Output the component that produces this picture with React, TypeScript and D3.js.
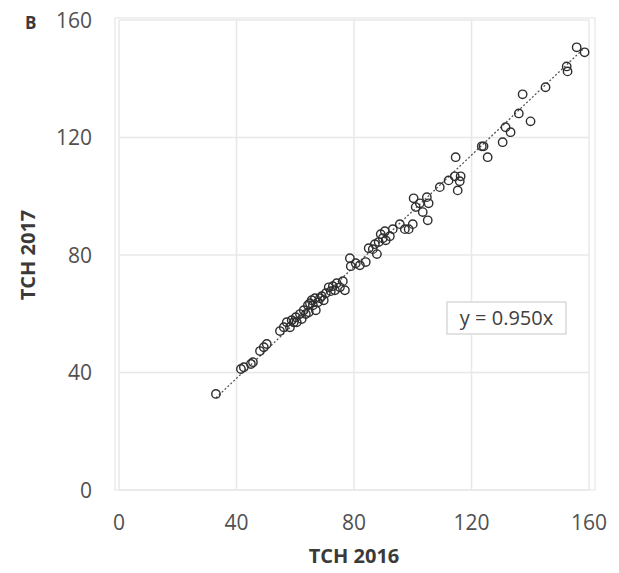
import React from "react";
import * as d3 from "d3";

// TCH 2016 vs TCH 2017
const tch2016 = [
  33.0, 41.5, 42.5, 44.9, 45.6, 48.0, 49.3, 50.3, 54.8, 56.1, 57.1, 58.2, 58.8, 59.5,
  60.2, 60.5, 61.6, 62.2, 62.9, 63.6, 64.3, 64.6, 65.0, 65.6, 66.0, 66.7, 67.0, 67.7,
  68.4, 69.0, 69.7, 70.4, 71.4, 72.1, 72.8, 73.5, 74.1, 75.2, 76.2, 76.9, 78.6, 78.9,
  80.6, 82.0, 84.0, 85.0, 86.4, 87.1, 87.8, 88.4, 89.1, 89.8, 90.5, 90.8, 92.2, 93.2,
  95.6, 97.3, 98.6, 100.0, 100.3, 101.0, 102.4, 103.4, 104.8, 105.1, 105.4, 109.2, 112.2,
  114.3, 114.6, 115.3, 116.0, 116.3, 123.5, 124.1, 125.5, 130.6, 131.6, 133.3, 136.1,
  137.4, 140.1, 145.2, 152.4, 152.7, 155.8, 158.5,
];
const tch2017 = [
  32.7, 41.2, 41.8, 42.9, 43.5, 47.3, 48.6, 49.7, 54.1, 55.4, 57.1, 55.4, 57.8, 57.1,
  58.8, 57.1, 59.9, 58.2, 61.2, 59.9, 62.9, 60.5, 63.6, 64.6, 62.9, 65.3, 61.2, 63.9,
  65.3, 66.0, 64.6, 67.0, 69.0, 67.7, 69.4, 68.0, 70.4, 69.0, 71.1, 68.0, 78.9, 76.2,
  77.2, 76.5, 77.6, 82.3, 82.0, 83.7, 80.3, 84.4, 87.1, 85.7, 88.1, 85.0, 86.4, 88.8,
  90.5, 88.8, 88.8, 90.5, 99.3, 96.3, 97.6, 94.6, 99.7, 91.8, 97.6, 103.1, 105.4,
  106.8, 113.3, 102.0, 105.1, 106.8, 117.0, 117.0, 113.3, 118.4, 123.5, 121.8, 128.2,
  134.7, 125.5, 137.1, 144.2, 142.5, 150.7, 149.0,
];
const ticks = [0, 40, 80, 120, 160];
const slope = 0.95;
const trendRange = [33, 158];

const W = 619;
const H = 573;
const font = "'Open Sans', sans-serif";

export default function App() {
  const x = d3.scaleLinear().domain([0, 160]).range([119, 589]);
  const y = d3.scaleLinear().domain([0, 160]).range([490, 20]);
  const pts = tch2016.map((v, i) => [v, tch2017[i]] as [number, number]);
  const trend = d3
    .line<number>()
    .x((d) => x(d))
    .y((d) => y(d * slope))(trendRange);

  return (
    <svg
      width={W}
      height={H}
      style={{ position: "absolute", left: 0, top: 0, background: "#fff" }}
    >
      {/* plot area */}
      <rect x={115} y={18} width={480} height={472} fill="none" stroke="#ececec" strokeWidth={1.5} />
      {ticks.map((t) => (
        <g key={"g" + t}>
          <line x1={x(t)} x2={x(t)} y1={y(160)} y2={y(0)} stroke="#e8e8e8" strokeWidth={1.5} />
          <line x1={x(0)} x2={x(160)} y1={y(t)} y2={y(t)} stroke="#e8e8e8" strokeWidth={1.5} />
        </g>
      ))}

      {/* tick labels */}
      {ticks.map((t) => (
        <text key={"xt" + t} x={x(t)} y={530} textAnchor="middle" fontFamily={font} fontSize={21} fill="#505050">
          {t}
        </text>
      ))}
      {ticks.map((t) => (
        <text key={"yt" + t} x={92} y={y(t)} dy="0.36em" textAnchor="end" fontFamily={font} fontSize={21} fill="#505050">
          {t}
        </text>
      ))}

      {/* axis titles */}
      <text x={(x(0) + x(160)) / 2} y={563} textAnchor="middle" fontFamily={font} fontSize={20} fontWeight="bold" fill="#3a3a3a">
        TCH 2016
      </text>
      <text
        transform={`translate(35,${(y(0) + y(160)) / 2}) rotate(-90)`}
        textAnchor="middle"
        fontFamily={font}
        fontSize={20}
        fontWeight="bold"
        fill="#3a3a3a"
      >
        TCH 2017
      </text>
      <text x={25} y={29} fontFamily={font} fontSize={17} fontWeight="bold" fill="#3a3a3a">
        B
      </text>

      {/* trend line */}
      <path d={trend ?? ""} fill="none" stroke="#555" strokeWidth={1.3} strokeDasharray="2,2" />

      {/* points */}
      {pts.map((p, i) => (
        <circle key={i} cx={x(p[0])} cy={y(p[1])} r={4.2} fill="none" stroke="#2e2e2e" strokeWidth={1.4} />
      ))}

      {/* equation label */}
      <rect x={447} y={302} width={119} height={32} fill="#fff" stroke="#d9d9d9" strokeWidth={1.5} />
      <text x={506.5} y={318} dy="0.36em" textAnchor="middle" fontFamily={font} fontSize={20} fill="#404040">
        y = 0.950x
      </text>
    </svg>
  );
}
